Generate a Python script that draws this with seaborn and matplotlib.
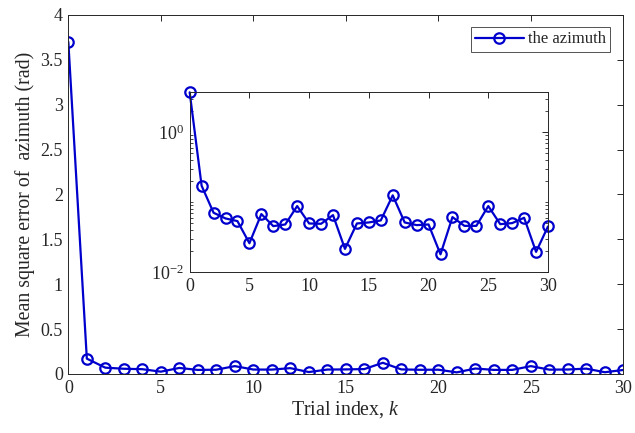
import numpy as np
import pandas as pd
import matplotlib
matplotlib.use("Agg")
import matplotlib.pyplot as plt
import seaborn as sns
from matplotlib.ticker import LogLocator, FixedLocator, NullFormatter

trial_index = list(range(31))
mse_azimuth = [3.70, 0.171, 0.0703, 0.0583, 0.0534, 0.0258, 0.0673, 0.0453, 0.0478,
               0.0876, 0.0494, 0.0489, 0.0650, 0.0214, 0.0494, 0.0511, 0.0546, 0.1247,
               0.0511, 0.0468, 0.0478, 0.0179, 0.0609, 0.0457, 0.0457, 0.0876, 0.0483,
               0.0500, 0.0596, 0.0194, 0.0448]
series_label = "the azimuth"
main_yticks = [0, 0.5, 1, 1.5, 2, 2.5, 3, 3.5, 4]
main_yticklabels = ["0", "0.5", "1", "1.5", "2", "2.5", "3", "3.5", "4"]
xticks = [0, 5, 10, 15, 20, 25, 30]

df = pd.DataFrame({"k": trial_index, "mse": mse_azimuth})

sns.set_theme(style="white")
plt.rcParams["font.family"] = ["Liberation Serif", "DejaVu Serif"]
plt.rcParams["mathtext.fontset"] = "custom"
plt.rcParams["mathtext.rm"] = "Liberation Serif"
plt.rcParams["mathtext.it"] = "Liberation Serif:italic"

txt = "#262626"
blue = "#0000CD"
fs = 13
fs_lab = 14.3
fs_leg = 12

fig = plt.figure(figsize=(6.35, 4.33), dpi=100)
ax = fig.add_axes([0.1076, 0.1363, 0.9816 - 0.1076, 0.9654 - 0.1363])

line_kw = dict(color=blue, linewidth=1.6, marker="o", markersize=7.5,
               markerfacecolor="none", markeredgecolor=blue, markeredgewidth=1.6)

sns.lineplot(data=df, x="k", y="mse", ax=ax, label=series_label, **line_kw)
ax.set_xlim(0, 30)
ax.set_ylim(0, 4)
ax.set_xticks(xticks)
ax.set_yticks(main_yticks)
ax.set_yticklabels(main_yticklabels)
ax.set_xlabel("Trial index, $\\mathit{k}$", fontsize=fs_lab, color=txt, labelpad=2)
ax.set_ylabel("Mean square error of  azimuth (rad)", fontsize=fs_lab, color=txt, labelpad=4)
ax.tick_params(direction="in", top=True, right=True, length=4, width=0.7,
               labelsize=fs, colors=txt, pad=4)
for s in ax.spines.values():
    s.set_color(txt)
    s.set_linewidth(0.7)

leg = ax.legend(loc="upper right", bbox_to_anchor=(0.976, 0.9657), fontsize=fs_leg,
                frameon=True, fancybox=False, borderpad=0.25, handlelength=2.9,
                handletextpad=0.25, borderaxespad=0)
leg.get_frame().set_edgecolor(txt)
leg.get_frame().set_linewidth(0.7)

axin = fig.add_axes([0.2987, 0.3718, 0.863 - 0.2987, 0.7868 - 0.3718])
sns.lineplot(data=df, x="k", y="mse", ax=axin, legend=False, **line_kw)
for l in axin.lines:
    l.set_clip_on(False)
axin.set_yscale("log")
axin.set_xlim(0, 30)
axin.set_ylim(0.01, 3.7)
axin.set_xticks(xticks)
axin.yaxis.set_major_locator(FixedLocator([0.01, 1]))
axin.set_yticklabels(["$10^{-2}$", "$10^{0}$"])
axin.yaxis.set_minor_locator(LogLocator(base=10, subs=np.arange(1, 10), numticks=20))
axin.yaxis.set_minor_formatter(NullFormatter())
axin.set_xlabel("")
axin.set_ylabel("")
axin.tick_params(which="major", direction="in", top=True, right=True, length=4,
                 width=0.7, labelsize=fs, colors=txt, pad=4)
axin.tick_params(which="minor", direction="in", left=True, right=True, length=2,
                 width=0.6, colors=txt)
for s in axin.spines.values():
    s.set_color(txt)
    s.set_linewidth(0.7)

fig.savefig("out.png", dpi=100)
